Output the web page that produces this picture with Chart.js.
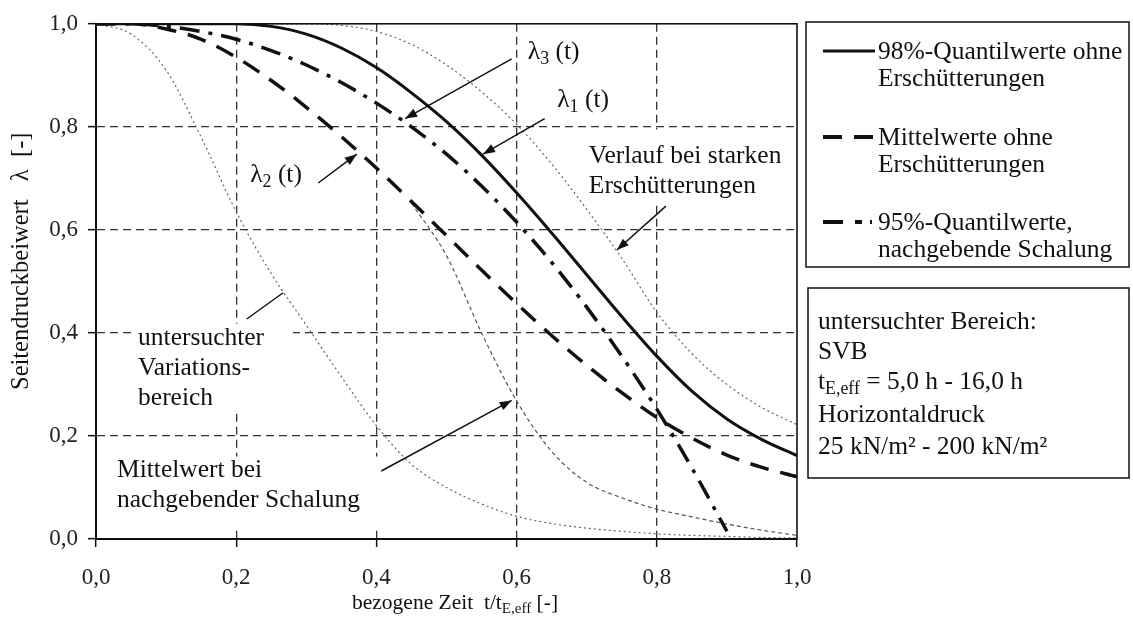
<!DOCTYPE html>
<html lang="de">
<head>
<meta charset="utf-8">
<title>Seitendruckbeiwert</title>
<script src="https://cdn.jsdelivr.net/npm/chart.js@4.4.1/dist/chart.umd.min.js"></script>
<style>
  html, body { margin: 0; padding: 0; background: #fff; }
  canvas { display: block; }
</style>
</head>
<body>
<canvas id="grafica" width="1133" height="624"></canvas>
<script>
// === DATEN ===
const zeit = [0, 0.05, 0.1, 0.15, 0.2, 0.25, 0.3, 0.35, 0.4, 0.45, 0.5,
              0.55, 0.6, 0.65, 0.7, 0.75, 0.8, 0.85, 0.9, 0.95, 1.0];

// lambda1: 98%-Quantilwerte ohne Erschütterungen
const quantil98 = [1, 1, 1, 1, 1, 0.995, 0.98, 0.953, 0.915, 0.866, 0.81,
                   0.745, 0.672, 0.594, 0.513, 0.432, 0.355, 0.287, 0.233, 0.193, 0.162];
// lambda2: Mittelwerte ohne Erschütterungen
const mittelwerte = [1, 1, 0.99, 0.97, 0.935, 0.89, 0.838, 0.781, 0.72, 0.655, 0.589,
                     0.522, 0.457, 0.395, 0.337, 0.284, 0.236, 0.196, 0.163, 0.139, 0.121];
// lambda3: 95%-Quantilwerte, nachgebende Schalung
const quantil95 = [1, 1, 0.995, 0.985, 0.97, 0.948, 0.92, 0.886, 0.846, 0.80, 0.747,
                   0.685, 0.615, 0.537, 0.45, 0.355, 0.252, 0.138, 0.015, null, null];
// Verlauf bei starken Erschütterungen
const starkeErsch = [1, 1, 1, 1, 1, 1, 1, 0.997, 0.985, 0.96, 0.92,
                     0.868, 0.805, 0.728, 0.64, 0.545, 0.44, 0.36, 0.30, 0.255, 0.222];
// untere Grenze des Variationsbereichs
const variationUnten = [1, 0.98, 0.91, 0.78, 0.635, 0.515, 0.415, 0.315, 0.22, 0.145, 0.10,
                        0.068, 0.044, 0.03, 0.021, 0.015, 0.01, 0.007, 0.005, 0.003, 0.002];
// Mittelwert bei nachgebender Schalung
const nachgebendMittel = [null, null, null, null, null, null, null, null, null, 0.652, 0.55,
                          0.40, 0.268, 0.17, 0.11, 0.08, 0.058, 0.043, 0.029, 0.017, 0.007];

const achsenTicks = [0, 0.2, 0.4, 0.6, 0.8, 1.0];
const tickBeschriftung = ["0,0", "0,2", "0,4", "0,6", "0,8", "1,0"];

const legendeTexte = [
  ["98%-Quantilwerte ohne", "Erschütterungen"],
  ["Mittelwerte ohne", "Erschütterungen"],
  ["95%-Quantilwerte,", "nachgebende Schalung"]
];

const SERIF = "'Liberation Serif', 'DejaVu Serif', serif";
const SCHWARZ = "#111";
const TEXTGR = 25.5;

function punkte(werte) {
  return zeit.map((x, i) => ({ x: x, y: werte[i] }));
}

// === TEXT / PFEILE ===
function schreibe(ctx, teile, x, y, groesse, align) {
  const klein = groesse * 0.7;
  ctx.save();
  ctx.fillStyle = SCHWARZ;
  ctx.textBaseline = "middle";
  ctx.textAlign = "left";
  let breite = 0;
  teile.forEach(([t, sub]) => {
    ctx.font = `${sub ? klein : groesse}px ${SERIF}`;
    breite += ctx.measureText(t).width;
  });
  let cx = align === "center" ? x - breite / 2 : x;
  teile.forEach(([t, sub]) => {
    ctx.font = `${sub ? klein : groesse}px ${SERIF}`;
    ctx.fillText(t, cx, sub ? y + groesse * 0.28 : y);
    cx += ctx.measureText(t).width;
  });
  ctx.restore();
}

function pfeil(ctx, x1, y1, x2, y2, spitze) {
  ctx.save();
  ctx.strokeStyle = SCHWARZ;
  ctx.fillStyle = SCHWARZ;
  ctx.lineWidth = 1.5;
  ctx.beginPath();
  ctx.moveTo(x1, y1);
  ctx.lineTo(x2, y2);
  ctx.stroke();
  if (spitze) {
    const a = Math.atan2(y2 - y1, x2 - x1), l = 12, w = 4.5;
    ctx.beginPath();
    ctx.moveTo(x2, y2);
    ctx.lineTo(x2 - l * Math.cos(a) + w * Math.sin(a), y2 - l * Math.sin(a) - w * Math.cos(a));
    ctx.lineTo(x2 - l * Math.cos(a) - w * Math.sin(a), y2 - l * Math.sin(a) + w * Math.cos(a));
    ctx.closePath();
    ctx.fill();
  }
  ctx.restore();
}

// Beschriftungen im Diagramm (in Datenkoordinaten)
const beschriftungen = [
  { teile: [["λ"], ["3", true], [" (t)"]], x: 0.616, y: 0.944 },
  { teile: [["λ"], ["1", true], [" (t)"]], x: 0.658, y: 0.851 },
  { teile: [["λ"], ["2", true], [" (t)"]], x: 0.220, y: 0.706 },
  { teile: [["Verlauf bei starken"]], x: 0.703, y: 0.743 },
  { teile: [["Erschütterungen"]], x: 0.703, y: 0.685 },
  { teile: [["untersuchter"]], x: 0.060, y: 0.389 },
  { teile: [["Variations-"]], x: 0.060, y: 0.331 },
  { teile: [["bereich"]], x: 0.060, y: 0.273 },
  { teile: [["Mittelwert bei"]], x: 0.030, y: 0.133 },
  { teile: [["nachgebender Schalung"]], x: 0.030, y: 0.075 }
];
// weiße Hintergrundflächen der Beschriftungen: [x0, x1, y0, y1] in Datenkoordinaten
const textFlaechen = [
  [0.697, 0.99, 0.795, 0.655],
  [0.053, 0.281, 0.418, 0.25],
  [0.023, 0.413, 0.16, 0.023]
];
const pfeile = [
  { von: [0.593, 0.932], nach: [0.441, 0.816], spitze: true },
  { von: [0.640, 0.816], nach: [0.552, 0.747], spitze: true },
  { von: [0.317, 0.691], nach: [0.372, 0.747], spitze: true },
  { von: [0.813, 0.646], nach: [0.743, 0.561], spitze: true },
  { von: [0.215, 0.427], nach: [0.267, 0.478], spitze: false },
  { von: [0.407, 0.132], nach: [0.593, 0.269], spitze: true }
];

const zeichnung = {
  id: "zeichnung",
  beforeDatasetsDraw(chart) {
    const { ctx, scales: { x, y } } = chart;
    ctx.save();
    ctx.fillStyle = "#fff";
    textFlaechen.forEach(([x0, x1, y0, y1]) => {
      const l = x.getPixelForValue(x0), r = x.getPixelForValue(x1);
      const t = y.getPixelForValue(y0), b = y.getPixelForValue(y1);
      ctx.fillRect(l, t, r - l, b - t);
    });
    ctx.restore();
  },
  afterDatasetsDraw(chart) {
    const { ctx, chartArea: a } = chart;
    ctx.save();
    ctx.strokeStyle = SCHWARZ;
    ctx.lineWidth = 1.6;
    ctx.strokeRect(a.left, a.top, a.right - a.left, a.bottom - a.top);
    ctx.restore();
  },
  afterDraw(chart) {
    const { ctx, scales: { x, y } } = chart;
    const px = v => x.getPixelForValue(v);
    const py = v => y.getPixelForValue(v);

    beschriftungen.forEach(b => schreibe(ctx, b.teile, px(b.x), py(b.y), TEXTGR));
    pfeile.forEach(p => pfeil(ctx, px(p.von[0]), py(p.von[1]), px(p.nach[0]), py(p.nach[1]), p.spitze));

    // Achsentitel
    schreibe(ctx, [["bezogene Zeit  t/t"], ["E,eff", true], [" [-]"]], 352, 603, 21.5);
    ctx.save();
    ctx.translate(22, 390);
    ctx.rotate(-Math.PI / 2);
    schreibe(ctx, [["Seitendruckbeiwert   λ  [-]"]], 0, 0, 24.5);
    ctx.restore();

    // Legende
    ctx.save();
    ctx.strokeStyle = SCHWARZ;
    ctx.lineWidth = 1.5;
    ctx.strokeRect(806, 22, 323, 245);
    ctx.strokeRect(808, 288, 321, 190);
    const muster = [
      { y: 51, dash: [], w: 3 },
      { y: 137, dash: [19, 12], w: 4 },
      { y: 222, dash: [20, 12, 7, 8, 2, 30], w: 4 }
    ];
    muster.forEach((m, i) => {
      ctx.save();
      ctx.lineWidth = m.w;
      ctx.setLineDash(m.dash);
      ctx.beginPath();
      ctx.moveTo(823, m.y);
      ctx.lineTo(875, m.y);
      ctx.stroke();
      ctx.restore();
      schreibe(ctx, [[legendeTexte[i][0]]], 878, m.y + 1, TEXTGR);
      schreibe(ctx, [[legendeTexte[i][1]]], 878, m.y + 28, TEXTGR);
    });
    ctx.restore();

    schreibe(ctx, [["untersuchter Bereich:"]], 818, 322, TEXTGR);
    schreibe(ctx, [["SVB"]], 818, 352, TEXTGR);
    schreibe(ctx, [["t"], ["E,eff", true], [" = 5,0 h - 16,0 h"]], 818, 382, TEXTGR);
    schreibe(ctx, [["Horizontaldruck"]], 818, 415, TEXTGR);
    schreibe(ctx, [["25 kN/m² - 200 kN/m²"]], 818, 447, TEXTGR);
  }
};

function achse(abstand) {
  return {
    type: "linear",
    min: 0,
    max: 1,
    afterBuildTicks: s => { s.ticks = achsenTicks.map(v => ({ value: v })); },
    ticks: {
      callback: (v, i) => tickBeschriftung[i],
      font: { family: SERIF, size: 23 },
      color: "#222",
      maxRotation: 0,
      padding: abstand
    },
    grid: {
      color: c => (c.tick && c.tick.value > 0.01 && c.tick.value < 0.99) ? "#333" : "rgba(0,0,0,0)",
      lineWidth: 1.3,
      tickColor: SCHWARZ,
      tickWidth: 1.5,
      tickLength: 8
    },
    border: { display: true, color: SCHWARZ, width: 2, dash: [8, 5] }
  };
}

const ejeX = achse(17);
ejeX.afterFit = s => { s.height = 85; };
const ejeY = achse(10);
ejeY.afterFit = s => { s.width = 96; };

new Chart(document.getElementById("grafica"), {
  type: "line",
  data: {
    datasets: [
      { label: "98%-Quantilwerte", data: punkte(quantil98), borderColor: SCHWARZ, borderWidth: 3 },
      { label: "Mittelwerte", data: punkte(mittelwerte), borderColor: SCHWARZ, borderWidth: 3.5, borderDash: [19, 12] },
      { label: "95%-Quantilwerte", data: punkte(quantil95), borderColor: SCHWARZ, borderWidth: 3.5, borderDash: [20, 9, 4, 9] },
      { label: "starke Erschütterungen", data: punkte(starkeErsch), borderColor: "#666", borderWidth: 1.2, borderDash: [2, 3] },
      { label: "Variationsbereich", data: punkte(variationUnten), borderColor: "#666", borderWidth: 1.2, borderDash: [2, 3] },
      { label: "nachgebende Schalung", data: punkte(nachgebendMittel), borderColor: "#555", borderWidth: 1.2, borderDash: [4, 3] }
    ]
  },
  options: {
    responsive: false,
    animation: false,
    layout: { padding: { left: 0, right: 336, top: 22, bottom: 0 } },
    elements: {
      point: { radius: 0 },
      line: { cubicInterpolationMode: "monotone", fill: false }
    },
    plugins: { legend: { display: false }, tooltip: { enabled: false } },
    scales: { x: ejeX, y: ejeY }
  },
  plugins: [zeichnung]
});
</script>
</body>
</html>
